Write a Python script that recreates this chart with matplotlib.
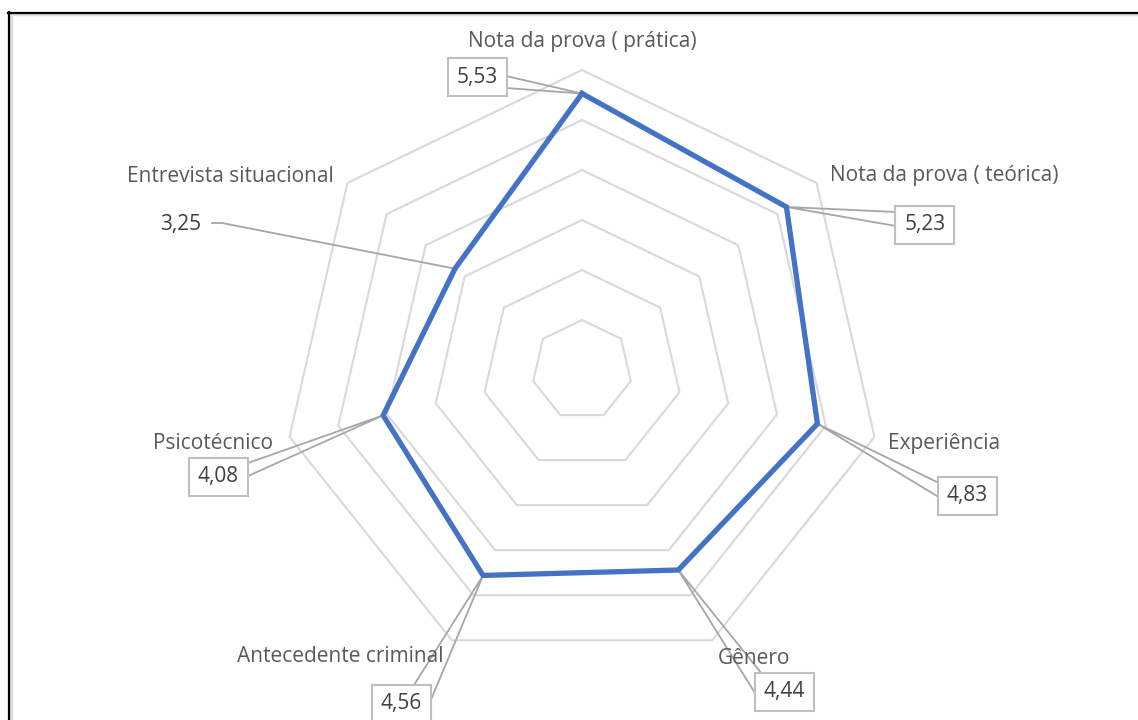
import matplotlib.pyplot as plt
from matplotlib.patches import Rectangle
from matplotlib.lines import Line2D
import numpy as np

# Radar data, clockwise from the top
categories = [
    "Nota da prova ( prática)",
    "Nota da prova ( teórica)",
    "Experiência",
    "Gênero",
    "Antecedente criminal",
    "Psicotécnico",
    "Entrevista situacional",
]
values = [5.53, 5.23, 4.83, 4.44, 4.56, 4.08, 3.25]
value_labels = ["5,53", "5,23", "4,83", "4,44", "4,56", "4,08", "3,25"]
ring_levels = [1, 2, 3, 4, 5, 6]

# Layout (pixel positions on the 1138x720 canvas)
W, H = 1138, 720
CX, CY, PX_PER_UNIT = 582, 370, 50
cat_pos = [(582, 41), (944, 176), (944, 444), (754, 658),
           (340, 657), (213, 444), (230, 176)]
box_pos = [(477, 77), (925, 225), (967, 496), (784, 692),
           (401, 704), (218, 477), None]
arm_pts = [((506, 76), (506, 88)), ((896, 212), (896, 226)),
           ((937, 482), (937, 496)), ((762, 674), (755, 693)),
           ((414, 685), (430, 702)), ((248, 463), (248, 476)), None]
BOX_W, BOX_H = 59, 38

FONT = ["Open Sans", "DejaVu Sans"]
FS = 15
CAT_COLOR = "#595959"
LBL_COLOR = "#404040"
GRID_COLOR = "#d9d9d9"
LEADER_COLOR = "#a6a6a6"
LINE_COLOR = "#4472c4"


def px(x, y):
    """Canvas pixel -> chart data units (center of radar at 0,0)."""
    return (x - CX) / PX_PER_UNIT, (CY - y) / PX_PER_UNIT


n = len(categories)
angles = np.pi / 2 - np.arange(n) * 2 * np.pi / n

fig = plt.figure(figsize=(W / 100, H / 100), dpi=100)
ax = fig.add_axes([0, 0, 1, 1])
ax.set_xlim(-CX / PX_PER_UNIT, (W - CX) / PX_PER_UNIT)
ax.set_ylim(-(H - CY) / PX_PER_UNIT, CY / PX_PER_UNIT)
ax.set_aspect("equal")
ax.axis("off")

# heptagon grid
for r in ring_levels:
    xs = r * np.cos(np.append(angles, angles[0]))
    ys = r * np.sin(np.append(angles, angles[0]))
    ax.plot(xs, ys, color=GRID_COLOR, lw=1.5, zorder=1)

# series line
vx = np.array(values) * np.cos(angles)
vy = np.array(values) * np.sin(angles)
ax.plot(np.append(vx, vx[0]), np.append(vy, vy[0]), color=LINE_COLOR,
        lw=3.8, solid_joinstyle="miter", zorder=4)

# category labels
for name, (x, y) in zip(categories, cat_pos):
    ax.text(*px(x, y), name, ha="center", va="center", fontsize=FS,
            color=CAT_COLOR, family=FONT, zorder=6)

# value labels with callout leaders
for i, lbl in enumerate(value_labels):
    tip = (vx[i], vy[i])
    if box_pos[i] is None:
        # plain leader without a box
        p0, p1 = px(212, 223), px(222, 223)
        ax.plot([p0[0], p1[0], tip[0]], [p0[1], p1[1], tip[1]],
                color=LEADER_COLOR, lw=1.3, zorder=3)
        ax.text(*px(181, 225), lbl, ha="center", va="center", fontsize=FS,
                color=LBL_COLOR, family=FONT, zorder=6)
        continue
    a, b = px(*arm_pts[i][0]), px(*arm_pts[i][1])
    ax.plot([a[0], tip[0], b[0]], [a[1], tip[1], b[1]],
            color=LEADER_COLOR, lw=1.3, zorder=3)
    bx, by = box_pos[i]
    x0, y0 = px(bx - BOX_W / 2, by + BOX_H / 2)
    ax.add_patch(Rectangle((x0, y0), BOX_W / PX_PER_UNIT, BOX_H / PX_PER_UNIT,
                           facecolor="white", edgecolor="#bfbfbf", lw=1.5,
                           zorder=5))
    ax.text(*px(bx, by), lbl, ha="center", va="center", fontsize=FS,
            color=LBL_COLOR, family=FONT, zorder=6)

# frame on top and left edges
fig.add_artist(Line2D([9 / W, 1], [1 - 14 / H, 1 - 14 / H],
                      transform=fig.transFigure, color="#dddddd", lw=2.5))
fig.add_artist(Line2D([11 / W, 11 / W], [0, 1 - 14 / H],
                      transform=fig.transFigure, color="#dddddd", lw=2.5))
fig.add_artist(Line2D([8 / W, 1], [1 - 12.5 / H, 1 - 12.5 / H],
                      transform=fig.transFigure, color="black", lw=1.6))
fig.add_artist(Line2D([8.5 / W, 8.5 / W], [0, 1 - 12 / H],
                      transform=fig.transFigure, color="black", lw=1.6))

fig.savefig("out.png", dpi=100)
